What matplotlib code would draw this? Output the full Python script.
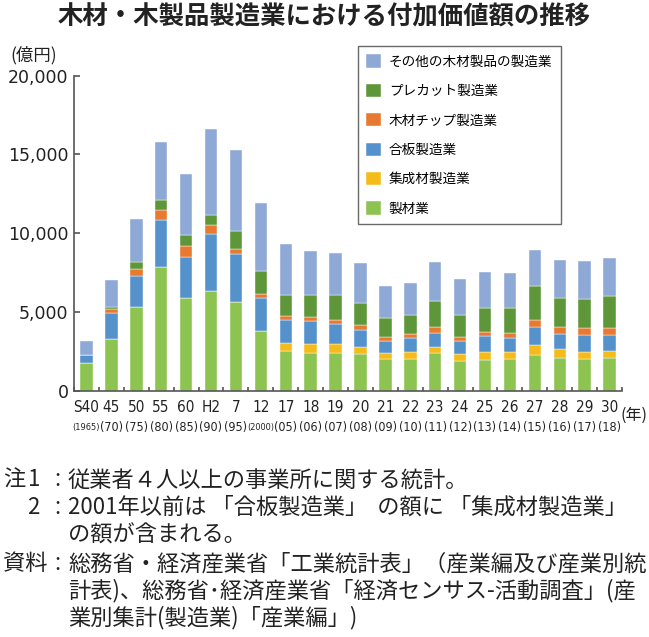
import matplotlib
matplotlib.use('Agg')
import matplotlib.pyplot as plt
from matplotlib import font_manager
import numpy as np

CJK = ['Noto Sans CJK JP', 'DejaVu Sans']
plt.rcParams['font.family'] = CJK

# pick the narrowest latin face available for the crowded year labels
installed = {f.name for f in font_manager.fontManager.ttflist}
if 'Liberation Sans Narrow' in installed:
    yr_font = dict(family='Liberation Sans Narrow')
    yr_sizes = (12, 10.5, 8)
else:
    path = font_manager.findfont(font_manager.FontProperties(family='DejaVu Sans',
                                                             stretch='condensed'))
    if 'Condensed' in path:
        yr_font = dict(family='DejaVu Sans', stretch='condensed')
        yr_sizes = (11, 9, 6.6)
    else:
        yr_font = dict(family='Liberation Sans')
        yr_sizes = (11, 9, 6.8)

# era year (top row) and western year (bottom row)
era_labels = ['S40', '45', '50', '55', '60', 'H2', '7', '12', '17', '18', '19',
              '20', '21', '22', '23', '24', '25', '26', '27', '28', '29', '30']
ad_labels = ['(1965)', '(70)', '(75)', '(80)', '(85)', '(90)', '(95)', '(2000)',
             '(05)', '(06)', '(07)', '(08)', '(09)', '(10)', '(11)', '(12)',
             '(13)', '(14)', '(15)', '(16)', '(17)', '(18)']

# value added, 100 million yen
sawmill = [1780, 3300, 5330, 7850, 5900, 6350, 5630, 3770, 2540, 2400, 2410,
           2350, 1990, 2030, 2410, 1880, 1970, 2010, 2265, 2095, 1990, 2095]
glulam = [0, 0, 0, 0, 0, 0, 0, 0, 510, 570, 550,
          420, 380, 420, 380, 425, 465, 445, 635, 530, 465, 425]
plywood = [460, 1630, 1970, 2985, 2560, 3620, 3025, 2115, 1440, 1440, 1290,
           1100, 780, 870, 870, 845, 1015, 910, 1140, 995, 1100, 1035]
chip = [0, 275, 420, 635, 700, 550, 320, 255, 255, 255, 255,
        275, 255, 275, 360, 275, 275, 295, 445, 400, 445, 445]
precut = [0, 85, 420, 635, 700, 610, 1140, 1440, 1310, 1420, 1545,
          1440, 1230, 1185, 1670, 1400, 1545, 1565, 2160, 1860, 1800, 1990]
other = [910, 1735, 2730, 3680, 3870, 5480, 5140, 4315, 3240, 2815, 2710,
         2520, 2010, 2030, 2500, 2285, 2265, 2220, 2285, 2415, 2410, 2410]

series = [
    ('製材業', sawmill, '#8DC351'),
    ('集成材製造業', glulam, '#F5BB1A'),
    ('合板製造業', plywood, '#5592CB'),
    ('木材チップ製造業', chip, '#E77A30'),
    ('プレカット製造業', precut, '#5E9739'),
    ('その他の木材製品の製造業', other, '#8FA9D6'),
]

W, H = 649, 637
fig = plt.figure(figsize=(W / 100, H / 100), dpi=100)
ax = fig.add_axes([74 / W, 1 - 390.7 / H, 548 / W, 315 / H])

x = np.arange(len(era_labels))
bottom = np.zeros(len(x))
handles = []
for name, vals, col in series:
    b = ax.bar(x, vals, width=0.5, bottom=bottom, color=col, label=name,
               edgecolor='white', linewidth=0.3)
    handles.append(b)
    bottom += np.array(vals)

ax.set_xlim(-0.5, 21.5)
ax.set_ylim(0, 20000)
ax.spines['top'].set_visible(False)
ax.spines['right'].set_visible(False)
for s in ('left', 'bottom'):
    ax.spines[s].set_color('#555555')
    ax.spines[s].set_linewidth(1.2)

yt = [0, 5000, 10000, 15000, 20000]
ax.set_yticks(yt)
ax.set_yticklabels([f'{v:,}' for v in yt], family='DejaVu Sans', fontsize=12.5,
                   color='#222222')
ax.tick_params(axis='y', direction='in', length=4.5, width=1.2, color='#555555', pad=4)

ax.set_xticks([])
ax.set_xticks(np.arange(-0.5, 22, 1.0), minor=True)
ax.tick_params(axis='x', which='minor', direction='in', length=3, width=1.2,
               color='#555555')

xt = ax.get_xaxis_transform()
for i in x:
    ax.text(i, -0.052, era_labels[i], transform=xt, ha='center', va='center',
            fontsize=yr_sizes[0], color='#222222', **yr_font)
    fs = yr_sizes[2] if len(ad_labels[i]) > 4 else yr_sizes[1]
    ax.text(i, -0.118, ad_labels[i], transform=xt, ha='center', va='center',
            fontsize=fs, color='#222222', **yr_font)

fig.text(634 / W, 1 - 415 / H, '(年)', ha='center', va='center', fontsize=11.5,
         color='#222222')
fig.text(10 / W, 1 - 55 / H, '(億円)', ha='left', va='center', fontsize=12.5,
         color='#222222')

fig.text(324 / W, 1 - 17 / H, '木材・木製品製造業における付加価値額の推移',
         ha='center', va='center', fontsize=18.3, fontweight='bold', color='#222222')

leg = fig.legend(handles[::-1], [s[0] for s in series][::-1], loc='upper left',
                 bbox_to_anchor=(358 / W, 1 - 46 / H), fontsize=9.8,
                 frameon=True, fancybox=False, edgecolor='#444444',
                 handlelength=1.1, handleheight=1.1, handletextpad=0.55,
                 labelspacing=1.12, borderpad=0.62, borderaxespad=0)
leg.get_frame().set_linewidth(1.0)

# notes
nfs = 16
note_col = '#222222'
rows = [480, 507, 535, 564, 591, 618]
fig.text(3 / W, 1 - rows[0] / H, '注', ha='left', va='center', fontsize=nfs, color=note_col)
fig.text(34 / W, 1 - rows[0] / H, '1', ha='center', va='center', fontsize=nfs, color=note_col)
fig.text(33 / W, 1 - rows[1] / H, '2', ha='center', va='center', fontsize=nfs, color=note_col)
fig.text(3 / W, 1 - rows[3] / H, '資料', ha='left', va='center', fontsize=nfs, color=note_col)
for r in (rows[0], rows[1], rows[3]):
    fig.text(57 / W, 1 - r / H, ':', ha='center', va='center', fontsize=nfs, color=note_col)

body = [
    '従業者４人以上の事業所に関する統計。',
    '2001年以前は 「合板製造業」  の額に 「集成材製造業」',
    'の額が含まれる。',
    '総務省・経済産業省「工業統計表」（産業編及び産業別統',
    '計表)、総務省･経済産業省「経済センサス-活動調査」(産',
    '業別集計(製造業)「産業編」)',
]
for r, t in zip(rows, body):
    fig.text(68 / W, 1 - r / H, t, ha='left', va='center', fontsize=nfs, color=note_col)

fig.savefig('out.png', dpi=100)
